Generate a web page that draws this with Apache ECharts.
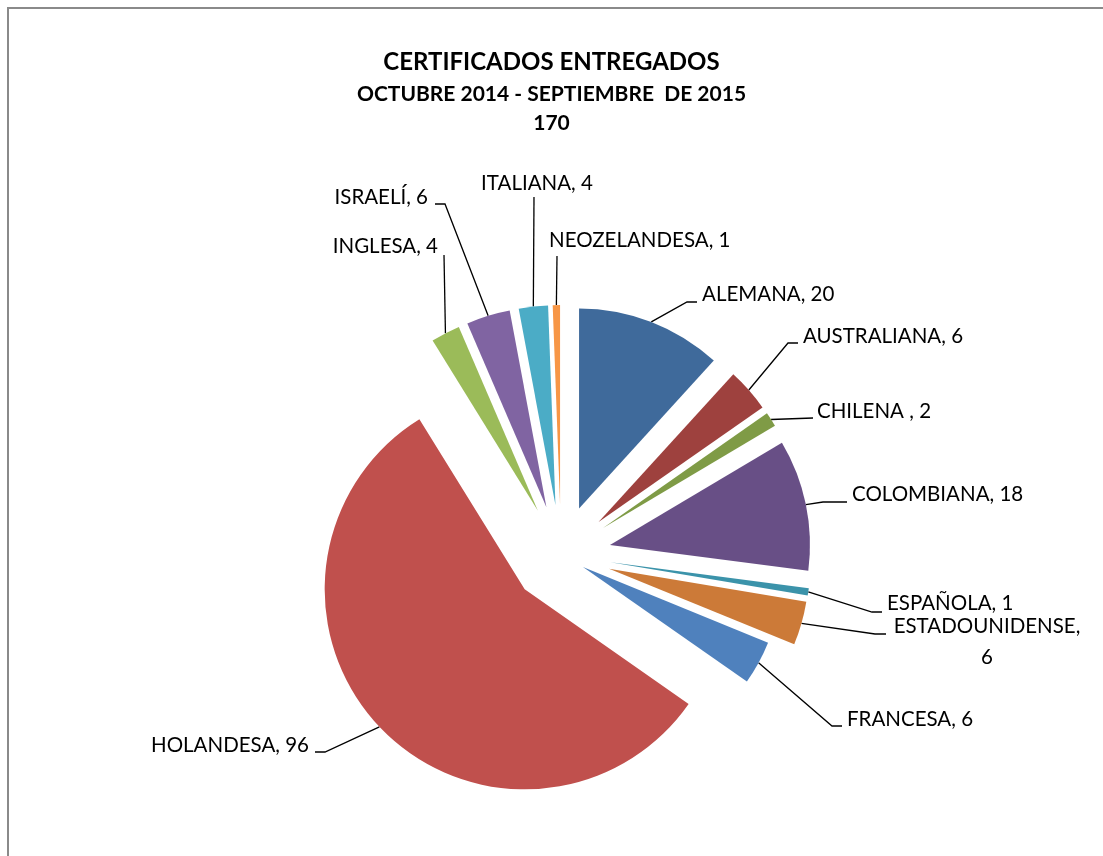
<!DOCTYPE html>
<html>
<head>
<meta charset="utf-8">
<script src="https://cdn.jsdelivr.net/npm/echarts@6/dist/echarts.min.js"></script>
<style>
  html, body { margin: 0; padding: 0; background: #fff; }
  #chart { width: 1103px; height: 856px; }
</style>
</head>
<body>
<div id="chart"></div>
<script>
// chart data
const names = ['ALEMANA', 'AUSTRALIANA', 'CHILENA ', 'COLOMBIANA', 'ESPAÑOLA', 'ESTADOUNIDENSE',
  'FRANCESA', 'HOLANDESA', 'INGLESA', 'ISRAELÍ', 'ITALIANA', 'NEOZELANDESA']
const values = [20, 6, 2, 18, 1, 6, 6, 96, 4, 6, 4, 1]
const titleLines = ['CERTIFICADOS ENTREGADOS', 'OCTUBRE 2014 - SEPTIEMBRE  DE 2015', '170']

// styling
const colors = ['#3F6A9B', '#9E413E', '#7F9B46', '#684F86', '#3B93AA', '#CC7A38',
  '#4F81BD', '#C0504D', '#9BBB59', '#8064A2', '#4BACC6', '#F79646']
const explode = [50, 50, 50, 50, 50, 50, 25, 50, 50, 50, 50, 50]

// label placement: text point, alignment, leader line elbow and end
const labelPos = [
  { x: 702, y: 294, align: 'left', bend: [687, 302], end: [697, 302] },
  { x: 803, y: 336, align: 'left', bend: [788, 343], end: [798, 343] },
  { x: 817, y: 411, align: 'left', bend: null, end: [813, 418] },
  { x: 852, y: 494, align: 'left', bend: [823, 502], end: [847, 502] },
  { x: 887, y: 603, align: 'left', bend: [872, 612], end: [882, 612] },
  { x: 987, y: 642, align: 'center', bend: [875, 634], end: [886, 634], wrap: true },
  { x: 847, y: 719, align: 'left', bend: [832, 726], end: [842, 726] },
  { x: 309, y: 745, align: 'right', bend: [325, 752], end: [315, 752] },
  { x: 438, y: 246, align: 'right', bend: null, end: [444, 255] },
  { x: 428, y: 197, align: 'right', bend: [445, 204], end: [435, 204] },
  { x: 537, y: 183, align: 'center', bend: null, end: [534, 197] },
  { x: 549, y: 240, align: 'left', bend: null, end: [557, 256] }
]

const pieCenter = [561, 555]
const pieRadius = 200
const font = 'Lato, "Open Sans", sans-serif'

const total = values.reduce((a, b) => a + b, 0)

const chart = echarts.init(document.getElementById('chart'))

// one pie per slice so every slice can be pulled out by its own amount
let acc = 0
const series = values.map((v, i) => {
  const mid = (acc + v / 2) / total * Math.PI * 2
  acc += v
  const cx = pieCenter[0] + explode[i] * Math.sin(mid)
  const cy = pieCenter[1] - explode[i] * Math.cos(mid)
  const anchor = [cx + pieRadius * Math.sin(mid), cy - pieRadius * Math.cos(mid)]
  const lp = labelPos[i]

  return {
    type: 'pie',
    center: [cx, cy],
    radius: pieRadius,
    startAngle: 90,
    clockwise: true,
    silent: true,
    avoidLabelOverlap: false,
    animation: false,
    emphasis: { disabled: true },
    data: names.map((n, j) => ({
      name: n,
      value: values[j],
      itemStyle: { color: j === i ? colors[j] : 'rgba(0,0,0,0)', borderWidth: 0 },
      label: { show: j === i },
      labelLine: { show: j === i }
    })),
    label: {
      formatter: p => p.name + ',' + (lp.wrap ? '\n' : ' ') + p.value,
      color: '#000',
      fontFamily: font,
      fontSize: 20.5,
      lineHeight: 31,
      align: lp.align
    },
    labelLine: {
      show: true,
      lineStyle: { color: '#000', width: 1.3 }
    },
    labelLayout: function (params) {
      if (params.dataIndex !== i) return {}
      const pts = [anchor]
      if (lp.bend) pts.push(lp.bend)
      pts.push(lp.end)
      while (pts.length < 3) pts.splice(1, 0, lp.end)
      return {
        x: lp.x,
        y: lp.y,
        align: lp.align,
        verticalAlign: 'middle',
        labelLinePoints: pts
      }
    }
  }
})

const option = {
  animation: false,
  textStyle: { fontFamily: font },
  title: {
    text: titleLines[0],
    subtext: titleLines[1] + '\n' + titleLines[2],
    left: 'center',
    top: 45,
    itemGap: 6,
    textStyle: { fontFamily: font, fontSize: 24, fontWeight: 'bold', color: '#000' },
    subtextStyle: { fontFamily: font, fontSize: 21, fontWeight: 'bold', color: '#000', lineHeight: 29, align: 'center' }
  },
  // chart-area frame: only its top and left edges fall inside the picture
  graphic: [{
    type: 'polyline',
    shape: { points: [[8, 900], [8, 8], [1200, 8]] },
    style: { fill: 'none', stroke: '#8a8a8a', lineWidth: 2 },
    silent: true
  }],
  series
}

chart.setOption(option)
</script>
</body>
</html>
